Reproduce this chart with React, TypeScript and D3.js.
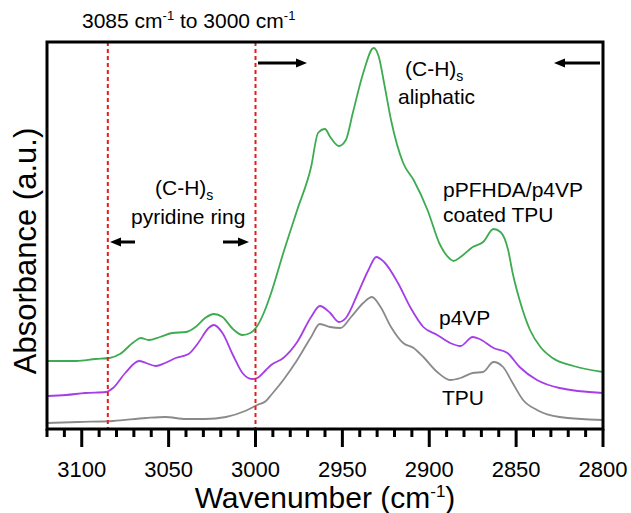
import React from "react";
import * as d3 from "d3";

const wavenumbersCoated = [3120, 3103, 3092, 3084, 3078, 3070, 3066, 3061.5, 3055, 3048, 3040, 3034.5, 3029, 3024, 3019, 3013, 3007.5, 3003, 2999, 2995, 2991, 2984, 2976, 2968, 2964, 2960, 2957, 2952, 2948, 2944, 2938, 2932, 2929, 2926, 2922, 2915, 2909, 2901, 2894, 2888, 2886, 2882, 2875, 2869, 2863, 2859, 2854.6, 2852, 2848, 2842, 2836, 2829, 2817, 2800];
const absCoated = [0.68, 0.68, 0.70, 0.71, 0.75, 0.87, 0.91, 0.89, 0.92, 0.96, 0.97, 1.02, 1.11, 1.15, 1.12, 1.00, 0.94, 0.96, 1.03, 1.17, 1.36, 1.76, 2.19, 2.62, 2.96, 3.00, 2.92, 2.83, 2.89, 3.16, 3.56, 3.81, 3.72, 3.46, 3.09, 2.66, 2.49, 2.19, 1.85, 1.70, 1.68, 1.72, 1.82, 1.87, 2.00, 1.97, 1.79, 1.56, 1.29, 0.99, 0.82, 0.71, 0.63, 0.57];

const wavenumbersP4VP = [3120, 3109, 3098, 3086, 3082, 3075, 3067, 3063, 3057.5, 3052, 3046, 3038.5, 3033, 3027, 3024, 3019, 3013, 3007.5, 3002, 2999, 2994, 2991, 2984, 2976, 2968, 2963, 2957, 2952, 2948, 2941, 2935, 2930.5, 2926, 2918, 2911, 2903.4, 2895.4, 2888, 2882, 2875, 2871, 2863, 2855, 2848, 2838, 2825, 2800];
const absP4VP = [0.33, 0.34, 0.36, 0.37, 0.41, 0.56, 0.68, 0.66, 0.63, 0.66, 0.71, 0.75, 0.86, 1.01, 1.04, 0.96, 0.74, 0.56, 0.50, 0.51, 0.59, 0.64, 0.71, 0.87, 1.12, 1.23, 1.16, 1.07, 1.11, 1.36, 1.59, 1.72, 1.67, 1.46, 1.22, 1.02, 0.94, 0.86, 0.83, 0.92, 0.90, 0.81, 0.76, 0.62, 0.49, 0.41, 0.36];

const wavenumbersTPU = [3120, 3102, 3082, 3063, 3052, 3040, 3029, 3017, 3006, 2999, 2994, 2991, 2984, 2976, 2968, 2963, 2957, 2951, 2945, 2938, 2933, 2928, 2922, 2915, 2909, 2903.4, 2895.4, 2888, 2882, 2875, 2869, 2863, 2857.5, 2852, 2846, 2838, 2825, 2800];
const absTPU = [0.06, 0.07, 0.08, 0.11, 0.12, 0.10, 0.10, 0.12, 0.18, 0.24, 0.28, 0.34, 0.49, 0.69, 0.92, 1.05, 1.02, 1.01, 1.12, 1.26, 1.32, 1.22, 1.02, 0.86, 0.81, 0.72, 0.57, 0.49, 0.51, 0.56, 0.57, 0.67, 0.62, 0.46, 0.29, 0.19, 0.12, 0.09];

const majorTicks = [3100, 3050, 3000, 2950, 2900, 2850, 2800];
const minorTicks = d3.range(3120, 2799, -10);
const regionBounds = [3085, 3000];

const W = 631, H = 513;
const left = 47, right = 603, top = 42, bottom = 429;
const FONT = "'Liberation Sans', Arial, sans-serif";

export default function App() {
  const x = d3.scaleLinear().domain([3120, 2800]).range([left, right]);
  const y = d3.scaleLinear().domain([0, 3.87]).range([bottom, top]);
  const line = d3
    .line<[number, number]>()
    .x((d) => x(d[0]))
    .y((d) => y(d[1]))
    .curve(d3.curveMonotoneX);
  const zip = (a: number[], b: number[]) => a.map((v, i) => [v, b[i]] as [number, number]);
  const series = [
    { w: wavenumbersTPU, a: absTPU, color: "#8a8a8a" },
    { w: wavenumbersP4VP, a: absP4VP, color: "#a53ee6" },
    { w: wavenumbersCoated, a: absCoated, color: "#3dab4f" },
  ];

  const arrow = (x1: number, x2: number, yy: number, key: string) => {
    const dir = x2 > x1 ? 1 : -1;
    return (
      <g key={key}>
        <line x1={x1} x2={x2 - dir * 8} y1={yy} y2={yy} stroke="#000" strokeWidth={3} />
        <path d={`M${x2},${yy} L${x2 - dir * 11},${yy - 4.5} L${x2 - dir * 11},${yy + 4.5} Z`} fill="#000" />
      </g>
    );
  };

  return (
    <svg width={W} height={H} style={{ position: "absolute", left: 0, top: 0, background: "#fff" }} fontFamily={FONT}>
      <rect x={0} y={0} width={W} height={H} fill="#fff" />
      {series.map((s, i) => (
        <path key={i} d={line(zip(s.w, s.a)) || ""} fill="none" stroke={s.color} strokeWidth={1.8} strokeLinejoin="round" />
      ))}
      {regionBounds.map((b) => (
        <line key={b} x1={x(b)} x2={x(b)} y1={top} y2={bottom} stroke="#e51c1c" strokeWidth={2} strokeDasharray="4,3" />
      ))}
      {/* frame */}
      <rect x={left} y={top} width={right - left} height={bottom - top} fill="none" stroke="#000" strokeWidth={3} />
      {minorTicks.map((t) => (
        <line key={"m" + t} x1={x(t)} x2={x(t)} y1={bottom} y2={bottom + (majorTicks.includes(t) ? 18 : 8)} stroke="#000" strokeWidth={3} />
      ))}
      {majorTicks.map((t) => (
        <text key={"l" + t} x={x(t)} y={477} textAnchor="middle" fontSize={22} fill="#000">
          {t}
        </text>
      ))}
      <text x={325} y={508} textAnchor="middle" fontSize={30} fill="#000">
        Wavenumber (cm<tspan dy={-11} fontSize={17}>-1</tspan><tspan dy={11}>)</tspan>
      </text>
      <text transform="translate(36,251) rotate(-90)" textAnchor="middle" fontSize={31} fill="#000">
        Absorbance (a.u.)
      </text>
      <text x={82} y={28} fontSize={21} fill="#000">
        3085 cm<tspan dy={-8} fontSize={13}>-1</tspan><tspan dy={8}> to 3000 cm</tspan><tspan dy={-8} fontSize={13}>-1</tspan>
      </text>
      {arrow(258, 307, 63, "a1")}
      {arrow(600, 554, 63, "a2")}
      {arrow(135, 110, 242, "a3")}
      {arrow(223, 249, 242, "a4")}
      <text x={405} y={76} fontSize={21} fill="#000">
        (C-H)<tspan dy={5} fontSize={14}>s</tspan>
      </text>
      <text x={398} y={104} fontSize={21} fill="#000">aliphatic</text>
      <text x={155} y={195} fontSize={21} fill="#000">
        (C-H)<tspan dy={5} fontSize={14}>s</tspan>
      </text>
      <text x={131} y={224} fontSize={21} fill="#000">pyridine ring</text>
      <text x={443} y={197} fontSize={21} fill="#000">pPFHDA/p4VP</text>
      <text x={443} y={222} fontSize={21} fill="#000">coated TPU</text>
      <text x={439} y={325} fontSize={21} fill="#000">p4VP</text>
      <text x={442} y={405} fontSize={21} fill="#000">TPU</text>
    </svg>
  );
}
